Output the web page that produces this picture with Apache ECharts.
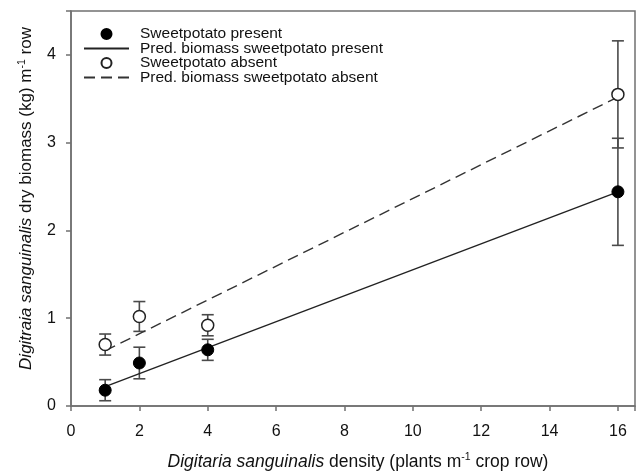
<!DOCTYPE html>
<html>
<head>
<meta charset="utf-8">
<script src="https://cdn.jsdelivr.net/npm/echarts@6/dist/echarts.min.js"></script>
<style>html,body{margin:0;padding:0;background:#fff}#c{width:638px;height:473px}</style>
</head>
<body>
<div id="c"></div>
<script>
// Data
const densities = [1, 2, 4, 16];
const presentMean = [0.18, 0.49, 0.64, 2.44];
const presentSE = [0.12, 0.18, 0.12, 0.61];
const absentMean = [0.70, 1.02, 0.92, 3.55];
const absentSE = [0.12, 0.17, 0.12, 0.61];
const predX = [1, 16];
const predPresent = [0.22, 2.44];
const predAbsent = [0.63, 3.52];
const xTicks = [0, 2, 4, 6, 8, 10, 12, 14, 16];
const yTicks = [0, 1, 2, 3, 4];

const FONT = 'Liberation Sans, Arial, sans-serif';
const pts = (xs, ys) => xs.map((x, i) => [x, ys[i]]);
const errData = (xs, m, se) => xs.map((x, i) => [x, m[i] - se[i], m[i] + se[i]]);

function errRender(params, api) {
  const x = api.value(0), lo = api.value(1), hi = api.value(2);
  const p1 = api.coord([x, lo]), p2 = api.coord([x, hi]);
  const hw = 6;
  const style = { stroke: '#4a4a4a', lineWidth: 1.6, fill: null };
  return {
    type: 'group',
    children: [
      { type: 'line', shape: { x1: p1[0], y1: p1[1], x2: p2[0], y2: p2[1] }, style },
      { type: 'line', shape: { x1: p1[0] - hw, y1: p1[1], x2: p1[0] + hw, y2: p1[1] }, style },
      { type: 'line', shape: { x1: p2[0] - hw, y1: p2[1], x2: p2[0] + hw, y2: p2[1] }, style }
    ]
  };
}

function richTitle(fs) {
  return {
    i: { fontFamily: FONT, fontSize: fs, fontStyle: 'italic', color: '#111', lineHeight: 20 },
    n: { fontFamily: FONT, fontSize: fs, color: '#111', lineHeight: 20 },
    s: { fontFamily: FONT, fontSize: 10.5, color: '#111', lineHeight: 20, padding: [0, 0, 9, 0] }
  };
}
const hiddenSym = { color: 'transparent', borderColor: 'transparent', borderWidth: 0 };

const chart = echarts.init(document.getElementById('c'), null, { renderer: 'canvas' });
chart.setOption({
  backgroundColor: '#fff',
  animation: false,
  grid: { left: 71, right: 3, top: 11, bottom: 67, show: true, borderColor: '#707070', borderWidth: 1.5,
    backgroundColor: 'transparent', containLabel: false, outerBoundsMode: 'none' },
  legend: {
    orient: 'vertical', left: 83, top: 26, padding: 0, itemGap: -1.5, itemWidth: 45, itemHeight: 10,
    textStyle: { fontFamily: FONT, fontSize: 15.5, color: '#111', lineHeight: 14.7, padding: [0, 0, 0, 6] },
    data: [
      { name: 'Sweetpotato present', icon: 'circle' },
      { name: 'Pred. biomass sweetpotato present', itemStyle: hiddenSym },
      { name: 'Sweetpotato absent', icon: 'circle' },
      { name: 'Pred. biomass sweetpotato absent', itemStyle: hiddenSym }
    ]
  },
  xAxis: {
    type: 'value', min: 0, max: 16.5, interval: 2,
    axisLine: { lineStyle: { color: '#707070', width: 1.5 } },
    axisTick: { show: true, inside: false, length: 5, lineStyle: { color: '#707070', width: 1.5 } },
    axisLabel: { fontFamily: FONT, fontSize: 16, color: '#111', margin: 18,
      formatter: v => xTicks.includes(v) ? String(v) : '' },
    splitLine: { show: false },
    name: '{i|Digitaria sanguinalis} {n|density (plants m}{s|-1}{n| crop row)}',
    nameLocation: 'middle', nameGap: 46,
    nameTextStyle: { fontFamily: FONT, fontSize: 17.5, color: '#111', padding: [0, 0, 0, 10], rich: richTitle(17.5) }
  },
  yAxis: {
    type: 'value', min: 0, max: 4.5, interval: 1,
    axisLine: { lineStyle: { color: '#707070', width: 1.5 } },
    axisTick: { show: true, inside: false, length: 5, lineStyle: { color: '#707070', width: 1.5 } },
    axisLabel: { fontFamily: FONT, fontSize: 16, color: '#111', margin: 15,
      formatter: v => yTicks.includes(v) ? String(v) : '' },
    splitLine: { show: false },
    name: '{i|Digitraia sanguinalis} {n|dry biomass (kg) m}{s|-1}{n| row}',
    nameLocation: 'middle', nameGap: 25, nameRotate: 90,
    nameTextStyle: { fontFamily: FONT, fontSize: 17, color: '#111', padding: [0, 0, 0, 20], rich: richTitle(17) }
  },
  series: [
    { type: 'custom', name: 'errPresent', renderItem: errRender, data: errData(densities, presentMean, presentSE), z: 1, silent: true, encode: { x: 0, y: [1, 2] } },
    { type: 'custom', name: 'errAbsent', renderItem: errRender, data: errData(densities, absentMean, absentSE), z: 1, silent: true, encode: { x: 0, y: [1, 2] } },
    { type: 'line', name: 'Pred. biomass sweetpotato present', data: pts(predX, predPresent), symbol: 'none', z: 2,
      lineStyle: { color: '#222', width: 1.4, type: 'solid' }, itemStyle: { color: '#222' } },
    { type: 'line', name: 'Pred. biomass sweetpotato absent', data: pts(predX, predAbsent), symbol: 'none', z: 2,
      lineStyle: { color: '#333', width: 1.4, type: [11, 6] }, itemStyle: { color: '#333' } },
    { type: 'scatter', name: 'Sweetpotato present', data: pts(densities, presentMean), symbol: 'circle', symbolSize: 12, z: 3,
      itemStyle: { color: '#000', borderColor: '#000', borderWidth: 1, opacity: 1 } },
    { type: 'scatter', name: 'Sweetpotato absent', data: pts(densities, absentMean), symbol: 'circle', symbolSize: 12, z: 3,
      itemStyle: { color: '#fff', borderColor: '#222', borderWidth: 1.5, opacity: 1 } }
  ]
});
</script>
</body>
</html>
